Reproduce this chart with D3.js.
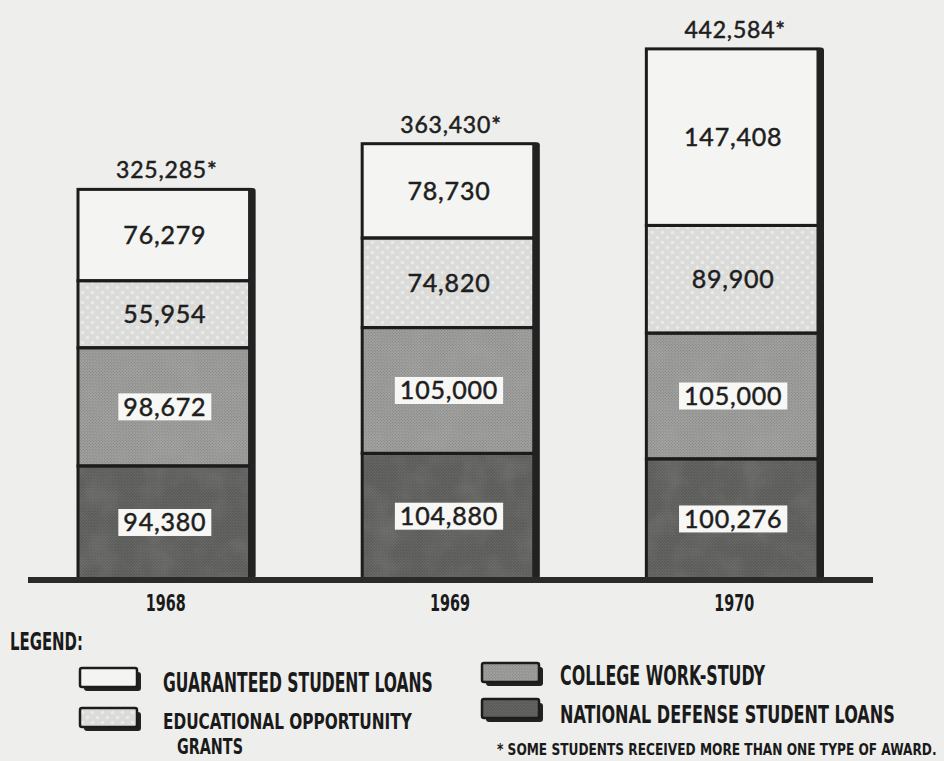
<!DOCTYPE html>
<html><head><meta charset="utf-8">
<script src="https://cdn.jsdelivr.net/npm/d3@7"></script>
<style>html,body{margin:0;padding:0;background:#eeeeec;} svg{display:block;}</style>
</head><body>
<svg id="c" width="944" height="761"></svg>
<script>
// ---------------- data ----------------
const years = ["1968", "1969", "1970"];
const seriesKeys = ["ndsl", "cws", "eog", "gsl"]; // bottom to top
const ndslValues = [94380, 104880, 100276];
const cwsValues = [98672, 105000, 105000];
const eogValues = [55954, 74820, 89900];
const gslValues = [76279, 78730, 147408];
const totalValues = [325285, 363430, 442584];
const legendTitle = "LEGEND:";
const legendNames = {
  gsl: ["GUARANTEED STUDENT LOANS"],
  eog: ["EDUCATIONAL OPPORTUNITY", "GRANTS"],
  cws: ["COLLEGE WORK-STUDY"],
  ndsl: ["NATIONAL DEFENSE STUDENT LOANS"]
};
const footnote = "* SOME STUDENTS RECEIVED MORE THAN ONE TYPE OF AWARD.";

// ---------------- setup ----------------
const svg = d3.select("#c");
svg.append("rect").attr("width", 944).attr("height", 761).attr("fill", "#eeeeec");

const rows = years.map((y, i) => ({
  year: y, ndsl: ndslValues[i], cws: cwsValues[i], eog: eogValues[i], gsl: gslValues[i], total: totalValues[i]
}));

const x = d3.scaleBand().domain(years).range([78, 818]).paddingInner(0.396).paddingOuter(0);
const y = d3.scaleLinear().domain([0, 450000]).range([579, 40]);
const bw = x.bandwidth();

const fills = { gsl: "#f4f4f2", eog: "url(#p-eog)", cws: "url(#p-cws)", ndsl: "url(#p-ndsl)" };

// ---------------- patterns ----------------
const defs = svg.append("defs");
function dotPattern(id, base, dot, size, r) {
  const p = defs.append("pattern").attr("id", id).attr("patternUnits", "userSpaceOnUse")
    .attr("width", size).attr("height", size);
  p.append("rect").attr("width", size).attr("height", size).attr("fill", base);
  p.append("circle").attr("cx", size / 4).attr("cy", size / 4).attr("r", r).attr("fill", dot);
  p.append("circle").attr("cx", size * 3 / 4).attr("cy", size * 3 / 4).attr("r", r).attr("fill", dot);
}
dotPattern("p-eog", "#dbdbd9", "#eaeae8", 10, 1.8);
dotPattern("p-cws", "#a0a09e", "#7a7a78", 3, 0.55);
dotPattern("p-ndsl", "#5a5a58", "#767674", 3, 0.6);

const grain = defs.append("filter").attr("id", "grain").attr("x", 0).attr("y", 0).attr("width", 1).attr("height", 1);
grain.append("feTurbulence").attr("type", "fractalNoise").attr("baseFrequency", 0.035).attr("numOctaves", 3).attr("seed", 4);
grain.append("feColorMatrix").attr("values", "0 0 0 0 0.5  0 0 0 0 0.5  0 0 0 0 0.5  0 0 0 1.4 -0.55");

// ---------------- bars ----------------
const stacked = d3.stack().keys(seriesKeys)(rows);
const bars = svg.append("g");

stacked.forEach(s => {
  bars.selectAll(null).data(s).join("rect")
    .attr("x", d => x(d.data.year))
    .attr("y", d => y(d[1]))
    .attr("width", bw)
    .attr("height", d => y(d[0]) - y(d[1]))
    .attr("fill", fills[s.key]);
  if (s.key === "cws" || s.key === "ndsl") {
    bars.selectAll(null).data(s).join("rect")
      .attr("x", d => x(d.data.year))
      .attr("y", d => y(d[1]))
      .attr("width", bw)
      .attr("height", d => y(d[0]) - y(d[1]))
      .attr("fill", "#fff").attr("opacity", 0.2)
      .attr("filter", "url(#grain)");
  }
});
// outlines
stacked.forEach(s => {
  bars.selectAll(null).data(s).join("rect")
    .attr("x", d => x(d.data.year))
    .attr("y", d => y(d[1]))
    .attr("width", bw)
    .attr("height", d => y(d[0]) - y(d[1]))
    .attr("fill", "none").attr("stroke", "#1c1c1c").attr("stroke-width", 3);
});
// right shadow strip
bars.selectAll(null).data(rows).join("rect")
  .attr("x", d => x(d.year) + bw - 1)
  .attr("y", d => y(d.total) - 1.5)
  .attr("width", 7)
  .attr("height", d => y(0) - y(d.total) + 1.5)
  .attr("rx", 3)
  .attr("fill", "#222");

// baseline
svg.append("line").attr("x1", 28).attr("x2", 873).attr("y1", y(0) + 1).attr("y2", y(0) + 1)
  .attr("stroke", "#2a2a2a").attr("stroke-width", 6);

// ---------------- value labels ----------------
const fmt = d3.format(",");
const labelFont = "Lato, 'Open Sans', sans-serif";
const labels = svg.append("g");
stacked.forEach(s => {
  s.forEach(d => {
    const cx = x(d.data.year) + bw / 2 + 1;
    const cy = (y(d[0]) + y(d[1])) / 2;
    const boxed = s.key === "cws" || s.key === "ndsl";
    const bg = labels.append("rect");
    const t = labels.append("text")
      .attr("x", cx).attr("y", cy + 9)
      .attr("text-anchor", "middle")
      .attr("font-family", labelFont).attr("font-size", 25)
      .attr("letter-spacing", 0.8)
      .attr("fill", "#1e1e1e").attr("stroke", "#1e1e1e").attr("stroke-width", 0.5)
      .text(fmt(d[1] - d[0]));
    if (boxed) {
      const w = t.node().getComputedTextLength();
      bg.attr("x", cx - w / 2 - 5).attr("y", cy - 13.5).attr("width", w + 10).attr("height", 27)
        .attr("fill", "#f7f7f5");
    } else bg.remove();
  });
});
labels.selectAll(null).data(rows).join("text")
  .attr("x", d => x(d.year) + bw / 2 + 3)
  .attr("y", d => y(d.total) - 11)
  .attr("text-anchor", "middle")
  .attr("font-family", labelFont).attr("font-size", 23)
  .attr("letter-spacing", 0.8)
  .attr("fill", "#1e1e1e").attr("stroke", "#1e1e1e").attr("stroke-width", 0.5)
  .text(d => fmt(d.total) + "*");

// ---------------- condensed text helper ----------------
const condFont = "'DejaVu Sans Condensed', 'DejaVu Sans', sans-serif";
// draws text at (x0, base) with given font size, horizontally squeezed to width len
function condText(str, x0, base, size, len, anchor) {
  const t = svg.append("text")
    .attr("font-family", condFont).attr("font-weight", "bold").attr("font-size", size)
    .attr("fill", "#1a1a1a").text(str);
  const w = t.node().getComputedTextLength();
  const sx = len / w;
  const left = anchor === "middle" ? x0 - len / 2 : x0;
  t.attr("transform", `translate(${left},${base}) scale(${sx},1)`);
  return t;
}

// ---------------- year labels ----------------
years.forEach(d => condText(d, x(d) + bw / 2 + 2, 611, 23, 40, "middle"));

// ---------------- legend ----------------
condText(legendTitle, 10, 650, 25, 73);

const legendItems = [
  { key: "gsl", sx: 80, sy: 668, tx: 163, lines: [[692, 270, null, 26]] },
  { key: "eog", sx: 80, sy: 708, tx: 163, lines: [[729, 249, null, 22], [754, 66, 177, 21]] },
  { key: "cws", sx: 482, sy: 663, tx: 560, lines: [[685, 205, null, 26]] },
  { key: "ndsl", sx: 482, sy: 699, tx: 560, lines: [[723, 335, null, 25]] }
];
legendItems.forEach(it => {
  const g = svg.append("g");
  g.append("rect").attr("x", it.sx + 4).attr("y", it.sy + 4).attr("width", 57).attr("height", 19)
    .attr("rx", 3).attr("fill", "#222");
  g.append("rect").attr("x", it.sx).attr("y", it.sy).attr("width", 57).attr("height", 19)
    .attr("rx", 2).attr("fill", fills[it.key]).attr("stroke", "#1c1c1c").attr("stroke-width", 2.5);
  legendNames[it.key].forEach((str, i) => {
    const ln = it.lines[i];
    condText(str, ln[2] || it.tx, ln[0], ln[3], ln[1]);
  });
});
condText(footnote, 497, 755, 16, 440);
</script>
</body></html>
